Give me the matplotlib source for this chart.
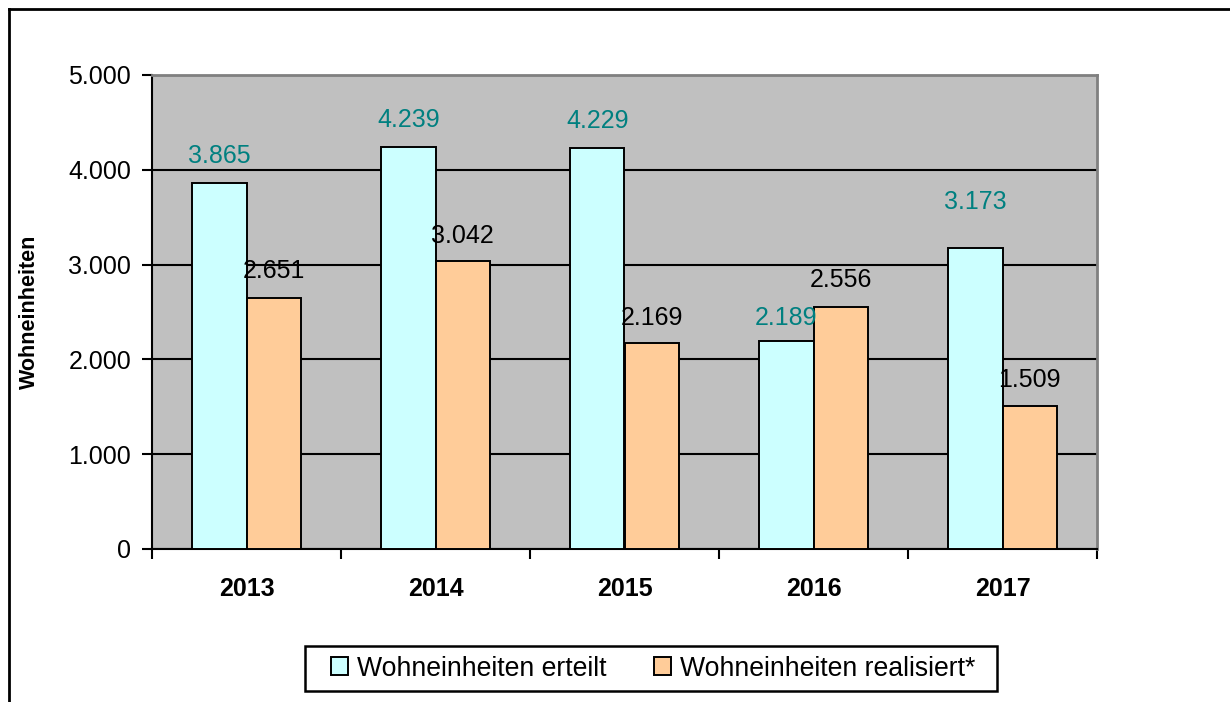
import matplotlib
matplotlib.use("Agg")
import matplotlib.pyplot as plt
import numpy as np
from matplotlib.lines import Line2D
from matplotlib.patches import Rectangle

plt.rcParams['font.family'] = ['Liberation Sans', 'DejaVu Sans']

years = ["2013", "2014", "2015", "2016", "2017"]
erteilt = [3865, 4239, 4229, 2189, 3173]
realisiert = [2651, 3042, 2169, 2556, 1509]
series_names = ["Wohneinheiten erteilt", "Wohneinheiten realisiert*"]
yticks = [0, 1000, 2000, 3000, 4000, 5000]
ytick_labels = ["0", "1.000", "2.000", "3.000", "4.000", "5.000"]
# label offsets (points above bar top, to label centre)
off_erteilt = [19.5, 19.5, 19.5, 17, 33]
off_real = [19.5, 18, 18, 19.5, 18.5]

W, H = 1230, 702
fig = plt.figure(figsize=(12.3, 7.02), dpi=100)
ax = fig.add_axes([152/W, 1-549/H, (1097-152)/W, (549-75)/H])
ax.set_facecolor('#C0C0C0')

x = np.arange(len(years))
w = 0.286
b1 = ax.bar(x - w/2, erteilt, w, color='#CCFFFF', edgecolor='black', linewidth=1.4, zorder=3, label=series_names[0])
b2 = ax.bar(x + w/2, realisiert, w, color='#FFCC99', edgecolor='black', linewidth=1.4, zorder=3, label=series_names[1])

def fmt(v):
    return f"{v:,}".replace(",", ".")

for xi, v, o in zip(x - w/2, erteilt, off_erteilt):
    ax.annotate(fmt(v), (xi, v), xytext=(0, o), textcoords='offset points',
                ha='center', va='center', fontsize=18, color='#008080', zorder=5)
for xi, v, o in zip(x + w/2, realisiert, off_real):
    ax.annotate(fmt(v), (xi, v), xytext=(0, o), textcoords='offset points',
                ha='center', va='center', fontsize=18, color='black', zorder=5)

ax.set_xlim(-0.5, len(years) - 0.5)
ax.set_ylim(0, 5000)
ax.set_yticks(yticks)
ax.set_yticklabels(ytick_labels, fontsize=18)
ax.yaxis.grid(True, color='black', linewidth=1.5, zorder=1)
ax.set_axisbelow(True)

ax.set_xticks(x)
ax.set_xticklabels(years, fontsize=18, fontweight='bold')
ax.tick_params(axis='x', length=0, pad=20)
ax.set_xticks(np.arange(-0.5, len(years)), minor=True)
ax.tick_params(axis='x', which='minor', length=7, width=1.5, direction='out')
ax.tick_params(axis='y', length=7, width=1.5, direction='out', pad=8)

for s in ['left', 'bottom']:
    ax.spines[s].set_color('black')
    ax.spines[s].set_linewidth(1.5)
for s in ['top', 'right']:
    ax.spines[s].set_color('#808080')
    ax.spines[s].set_linewidth(2)

ax.set_ylabel("Wohneinheiten", fontsize=15.5, fontweight='bold')
ax.yaxis.set_label_coords(-0.119, 0.5)

# legend frame drawn separately
fig.add_artist(Rectangle((305/W, 1-691/H), (997-305)/W, (691-646)/H,
                         transform=fig.transFigure, facecolor='white',
                         edgecolor='black', linewidth=1.8, zorder=1))
leg = fig.legend(handles=[b1, b2], labels=series_names, loc='center left',
                 bbox_to_anchor=(331/W, 1-668.5/H), ncol=2, fontsize=19.2,
                 frameon=False, borderpad=0, borderaxespad=0,
                 handlelength=0.64, handleheight=0.64, handletextpad=0.32,
                 columnspacing=1.8)
leg.set_zorder(2)
for h in leg.legend_handles:
    h.set_linewidth(1.4)

# outer chart frame (left and top lines)
fig.add_artist(Line2D([9/W, 9/W], [0, 1-9/H], color='black', linewidth=2, transform=fig.transFigure))
fig.add_artist(Line2D([9/W, 1], [1-9/H, 1-9/H], color='black', linewidth=2, transform=fig.transFigure))

fig.savefig("out.png", dpi=100)
